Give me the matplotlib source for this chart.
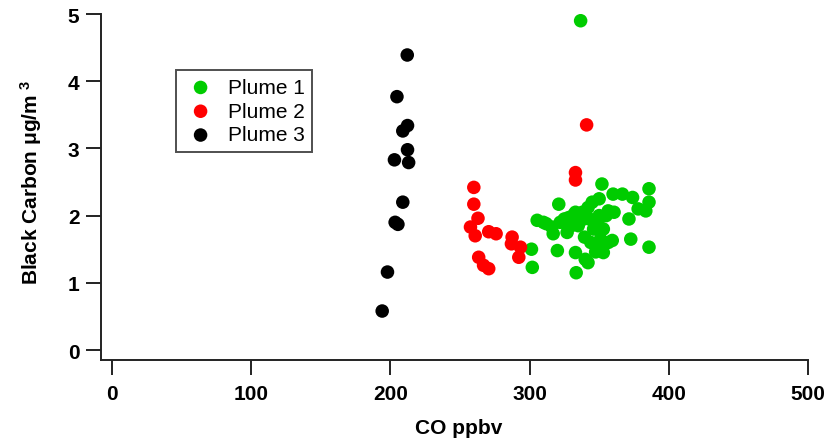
import matplotlib
matplotlib.use("Agg")
import matplotlib.pyplot as plt

# CO (ppbv) vs black carbon (ug/m3) for the three plumes
plume1_co = [301.4, 302, 305.5, 310, 312, 316, 317, 320, 321, 322, 325, 327, 328,
             330, 332, 333, 333, 333.5, 335, 336.7, 338, 339, 339.5, 340, 342, 342,
             343, 344, 345, 346, 347, 347.5, 348, 349, 350, 350, 351, 352, 353, 353,
             355, 356.5, 356.5, 359.4, 360, 360.7, 366.7, 371.4, 372.7, 374, 378,
             383.5, 385.8, 385.8, 385.8]
plume1_bc = [1.50, 1.23, 1.93, 1.90, 1.88, 1.83, 1.73, 1.48, 2.17, 1.90, 1.95, 1.75, 1.97,
             1.85, 2.02, 2.05, 1.45, 1.15, 1.85, 4.90, 2.05, 1.95, 1.68, 1.35, 2.12, 1.30,
             1.95, 1.60, 2.20, 1.80, 1.90, 1.46, 1.55, 1.90, 2.25, 2.00, 1.65, 2.47, 1.80, 1.45,
             2.00, 2.07, 1.60, 1.63, 2.32, 2.05, 2.32, 1.95, 1.65, 2.27, 2.10,
             2.07, 2.40, 2.20, 1.53]

plume2_co = [260, 260, 263, 257.6, 261, 270.7, 276, 287.5, 287, 293.5, 292.3, 263.5,
             267, 270.7, 333, 333, 341]
plume2_bc = [2.42, 2.17, 1.96, 1.83, 1.70, 1.76, 1.73, 1.68, 1.58, 1.53, 1.38, 1.38,
             1.26, 1.21, 2.64, 2.53, 3.35]

plume3_co = [212.2, 204.8, 212.4, 209, 212.4, 203, 213.2, 209, 203.5, 205.5, 198, 194.2]
plume3_bc = [4.39, 3.77, 3.34, 3.26, 2.98, 2.83, 2.79, 2.20, 1.90, 1.87, 1.16, 0.58]

plt.rcParams['font.family'] = ['Liberation Sans', 'DejaVu Sans']
plt.rcParams['mathtext.default'] = 'regular'

fig = plt.figure(figsize=(8.39, 4.39), dpi=100)
ax = fig.add_axes([0.1204, 0.1784, 0.8427, 0.7874])

ms = 95
ax.scatter(plume1_co, plume1_bc, s=ms, color='#00cc00', edgecolors='none', label='Plume 1')
ax.scatter(plume2_co, plume2_bc, s=ms, color='#ff0000', edgecolors='none', label='Plume 2')
ax.scatter(plume3_co, plume3_bc, s=ms, color='black', edgecolors='none', label='Plume 3')

ax.set_xlim(-7.7, 500)
ax.set_ylim(-0.144, 5)
ax.set_xticks([0, 100, 200, 300, 400, 500])
ax.set_yticks([0, 1, 2, 3, 4, 5])

for s in ['top', 'right']:
    ax.spines[s].set_visible(False)
for s in ['left', 'bottom']:
    ax.spines[s].set_linewidth(1.4)
    ax.spines[s].set_color('#222222')

ax.tick_params(direction='out', length=10.5, width=1.4, color='#222222', pad=5,
               labelsize=15)
ax.tick_params(axis='x', pad=7)
for lbl in ax.get_xticklabels() + ax.get_yticklabels():
    lbl.set_fontweight('bold')

ax.set_xlabel('CO ppbv', fontsize=15, fontweight='bold')
ax.set_ylabel(r'Black Carbon μg/m$^{\ 3}$', fontsize=15, fontweight='bold')
ax.xaxis.set_label_coords(0.506, -0.168)
ax.yaxis.set_label_coords(-0.081, 0.514)

leg = ax.legend(loc='upper left', bbox_to_anchor=(176 / 839, 1 - 71 / 439),
                bbox_transform=fig.transFigure, borderaxespad=0, fontsize=15,
                frameon=True, fancybox=False, edgecolor='#222222',
                labelspacing=0.23, borderpad=0.38, handlelength=1.6,
                handletextpad=0.5, scatterpoints=1)
leg.get_frame().set_linewidth(1.4)

fig.savefig('out.png', dpi=100)
